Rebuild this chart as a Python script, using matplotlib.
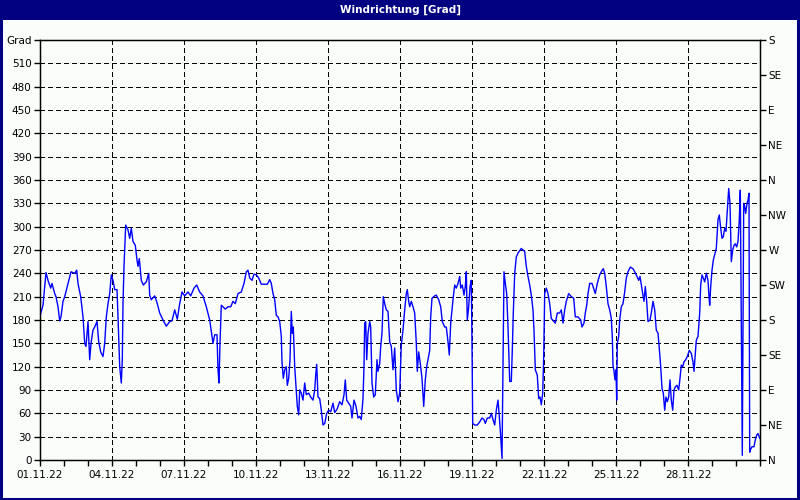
import matplotlib.pyplot as plt
from matplotlib.patches import Rectangle
from matplotlib.ticker import MultipleLocator

# hours since 01.11.22 00:00 and wind direction in degrees
hours = [0, 3, 6, 8, 10.7, 12, 14.7, 16, 18, 19.7, 21, 23, 24.7, 28, 31, 34.7, 36.7, 38, 40.7, 43,
         44.7, 46, 48, 49.7, 51, 53, 54.7, 57, 58.7, 60.7, 63, 64.7, 66.3, 68, 69.7, 71.3, 73, 74.7, 77, 78,
         79.7, 81.3, 82.3, 83, 84, 85.7, 88, 89.7, 91.3, 93, 95.3, 97, 98, 99.3, 101.3, 103.3, 106.3, 108.7, 109.7, 111.3,
         114.7, 117.3, 119.7, 123, 126.3, 129.7, 132, 134.7, 137.3, 139.7, 142, 144.7, 148, 150.7, 154, 156.7, 159.7, 163, 166.3, 169.7,
         171.3, 173, 174.7, 177, 178, 179, 180, 181.3, 183, 185.3, 188, 190.7, 193, 195.3, 198, 201.3, 204, 206.3, 208, 209.7,
         212, 214, 216.3, 218.7, 221.3, 224.7, 227.3, 229.7, 231.3, 233, 234.7, 236.3, 238, 239.7, 241.3, 242, 243.3, 244.7, 246.3, 247.3,
         248.7, 250, 250.7, 251.3, 252.3, 253.3, 254.7, 256.3, 257.3, 258.7, 259.7, 261.3, 263, 264.7, 266.3, 268.7, 270.7, 273, 274.7, 275.7,
         276.7, 278, 279.7, 281.3, 283, 284.7, 286.7, 288.7, 290.7, 293, 294.7, 297.3, 299.7, 302, 304, 305.3, 306.7, 308.7, 310.7, 312,
         314, 316, 318, 319.7, 321.3, 323, 324, 324.7, 325.7, 326.7, 328, 329.7, 330.7, 332, 333.7, 335.3, 337, 338, 339.7, 340.7,
         342, 343.3, 344.7, 346.3, 348, 349.7, 351.3, 353, 354.7, 356.3, 358, 359.7, 361.3, 363, 364.7, 366.3, 367.3, 368.7, 369.7, 371.3,
         373, 374.7, 376.3, 377.3, 378.7, 380.3, 382, 383.7, 385.3, 386.7, 388, 389.7, 390.7, 392, 394.7, 396.3, 398.7, 400.7, 402.3, 404.7,
         406.3, 408, 409.3, 410.7, 412, 413.3, 414.7, 416.3, 418, 419.7, 420.7, 422.3, 424, 425.3, 426.3, 427.3, 428.7, 430, 431.3, 432,
         432.7, 434.7, 437.3, 439.7, 442, 444, 445.3, 447.3, 449.7, 451.3, 453, 454.7, 456.3, 458, 459.3, 460.7, 462, 463, 464, 465.3,
         466.7, 468, 469.7, 471.3, 472.3, 473.3, 474.7, 476.3, 478, 481.3, 484.7, 486.3, 488, 489.7, 491.3, 493, 494, 495.3, 497.3, 498.7,
         500, 501.3, 502.7, 503.7, 504.7, 506.3, 508, 509.7, 511.3, 514, 515.3, 517.3, 519.7, 521.3, 523, 524.7, 526.3, 528.7, 531.3, 533.7,
         535.3, 538, 540.7, 542, 544, 545.3, 546.7, 548, 549.7, 552, 554, 555.3, 557.3, 559.7, 561.3, 563.3, 564.7, 566.3, 568, 569.7,
         571.3, 572.3, 573, 574, 575, 576, 576.7, 577.3, 578.7, 579.7, 581.3, 583, 584.7, 586.3, 588, 590.3, 593, 594.7, 597, 598.7,
         600, 601.3, 602.7, 604, 605.3, 606.7, 608, 610, 611.3, 613, 614.7, 616.3, 618, 619, 620.7, 622, 623.3, 624.7, 626, 627.3,
         628.7, 630, 631.3, 632.7, 634, 635.3, 637, 638.7, 640, 641.3, 642.7, 644, 645.7, 647.3, 649.3, 651.3, 653, 654, 655.3, 656.3,
         658, 659.7, 660.7, 662, 663.3, 664.7, 666.3, 668, 669, 669.7, 670.7, 672, 673.3, 674.7, 676.3, 678, 679.3, 680.7, 682, 683.3,
         684.7, 686, 687.3, 688.7, 690, 691.3, 692.7, 694, 695.3, 696.7, 698, 699.3, 700.3, 701.3, 702.3, 703, 703.7, 704.7, 705.7, 707,
         708, 709, 709.7, 710.3, 712, 714, 715.3, 716.7, 718, 719.7]
degrees = [185, 199, 241, 231, 221, 227, 214, 210, 197, 179, 184, 204, 210, 227, 242, 240, 244, 227, 210, 184,
           150, 146, 178, 129, 150, 167, 171, 178, 152, 139, 133, 150, 184, 201, 214, 238, 231, 219, 219, 184,
           120, 99, 129, 201, 249, 302, 296, 285, 298, 281, 276, 257, 249, 259, 231, 225, 229, 240, 212, 206,
           211, 201, 189, 180, 172, 178, 179, 193, 181, 201, 216, 211, 216, 211, 221, 225, 216, 211, 197, 180,
           165, 150, 161, 161, 116, 99, 150, 199, 197, 194, 197, 197, 204, 201, 214, 216, 227, 242, 244, 234,
           231, 239, 238, 234, 226, 226, 226, 232, 227, 214, 206, 186, 184, 178, 159, 126, 105, 116, 120, 96,
           105, 129, 163, 191, 163, 171, 120, 88, 69, 58, 90, 86, 77, 99, 84, 86, 81, 77, 90, 109,
           123, 81, 79, 64, 45, 47, 60, 64, 62, 73, 61, 66, 75, 71, 84, 103, 77, 73, 69, 54,
           77, 69, 54, 56, 52, 79, 120, 176, 178, 129, 163, 178, 171, 99, 81, 84, 129, 114, 124, 146,
           163, 210, 201, 193, 191, 152, 146, 116, 144, 90, 75, 86, 148, 167, 193, 214, 219, 204, 197, 204,
           197, 189, 150, 114, 139, 124, 105, 69, 103, 120, 129, 141, 184, 208, 211, 212, 206, 197, 178, 171,
           171, 152, 135, 176, 193, 210, 225, 221, 227, 236, 221, 225, 212, 223, 242, 180, 197, 223, 231, 150,
           47, 45, 45, 49, 54, 52, 47, 54, 54, 60, 52, 45, 64, 77, 56, 30, 2, 124, 242, 227,
           214, 171, 101, 101, 141, 189, 240, 261, 266, 272, 268, 249, 236, 225, 212, 193, 167, 116, 109, 79,
           81, 71, 86, 133, 214, 221, 214, 201, 182, 178, 176, 189, 189, 193, 176, 193, 204, 214, 210, 208,
           184, 184, 180, 171, 176, 189, 199, 214, 227, 227, 219, 214, 227, 238, 242, 246, 240, 223, 201, 193,
           182, 159, 122, 114, 103, 116, 77, 150, 159, 180, 197, 201, 216, 234, 242, 248, 246, 242, 236, 231,
           236, 225, 214, 204, 223, 204, 178, 180, 189, 204, 193, 167, 163, 148, 120, 92, 86, 64, 81, 75,
           81, 103, 77, 64, 90, 94, 96, 90, 105, 122, 120, 126, 129, 133, 141, 137, 126, 114, 137, 154,
           159, 189, 225, 238, 234, 229, 240, 231, 210, 199, 223, 244, 257, 264, 272, 309, 315, 298, 285, 287,
           298, 294, 321, 349, 330, 255, 270, 276, 278, 274, 281, 309, 347, 180, 6, 171, 330, 326, 317, 330,
           334, 343, 10, 13, 17, 17, 26, 32, 34, 28]

date_labels = ['01.11.22', '04.11.22', '07.11.22', '10.11.22', '13.11.22',
               '16.11.22', '19.11.22', '22.11.22', '25.11.22', '28.11.22']
left_labels = [str(v) for v in range(0, 540, 30)] + ['Grad']
compass_labels = ['N', 'NE', 'E', 'SE', 'S', 'SW', 'W', 'NW', 'N', 'NE', 'E', 'SE', 'S']

navy = '#000080'
bg = '#FBFDFB'
plt.rcParams['font.family'] = 'DejaVu Sans'

fig = plt.figure(figsize=(8, 5), dpi=100, facecolor=bg)

# title bar and frame
fig.patches.append(Rectangle((0, 0.96), 1, 0.04, transform=fig.transFigure,
                             facecolor=navy, edgecolor='none', zorder=0))
fig.patches.append(Rectangle((0.001, 0.003), 0.997, 0.995, transform=fig.transFigure,
                             facecolor='none', edgecolor=navy, linewidth=2.2, zorder=1))
fig.text(0.5, 0.98, 'Windrichtung [Grad]', color='white', fontsize=7.5,
         fontweight='bold', ha='center', va='center')

ax = fig.add_axes([0.05, 0.08, 0.9, 0.84])
ax.set_facecolor(bg)
ax.plot(hours, degrees, color='#0000FF', linewidth=1, zorder=3)

ax.set_xlim(0, 720)
ax.set_ylim(0, 540)
ax.set_xticks(range(0, 720, 72))
ax.set_xticklabels(date_labels)
ax.xaxis.set_minor_locator(MultipleLocator(24))
ax.set_yticks(range(0, 541, 30))
ax.set_yticklabels(left_labels)

ax.tick_params(axis='both', which='both', direction='out', length=4, width=1,
               labelsize=7.5, colors='black', pad=2)
ax.tick_params(axis='x', pad=3)

# dashed grid, drawn by hand so the top line stays solid
for x in range(72, 720, 72):
    ax.axvline(x, color='black', linewidth=1, dashes=(2.9, 2.2), antialiased=False, zorder=2)
for y in range(30, 540, 30):
    ax.axhline(y, color='black', linewidth=1, dashes=(2.9, 2.2), antialiased=False, zorder=2)

for s in ax.spines.values():
    s.set_linewidth(1)
    s.set_color('black')

ax2 = ax.twinx()
ax2.set_ylim(0, 540)
ax2.set_yticks(range(0, 541, 45))
ax2.set_yticklabels(compass_labels)
ax2.tick_params(axis='y', direction='out', length=4, width=1, labelsize=7.5, pad=2)

fig.savefig('out.png', dpi=100, facecolor=bg)
